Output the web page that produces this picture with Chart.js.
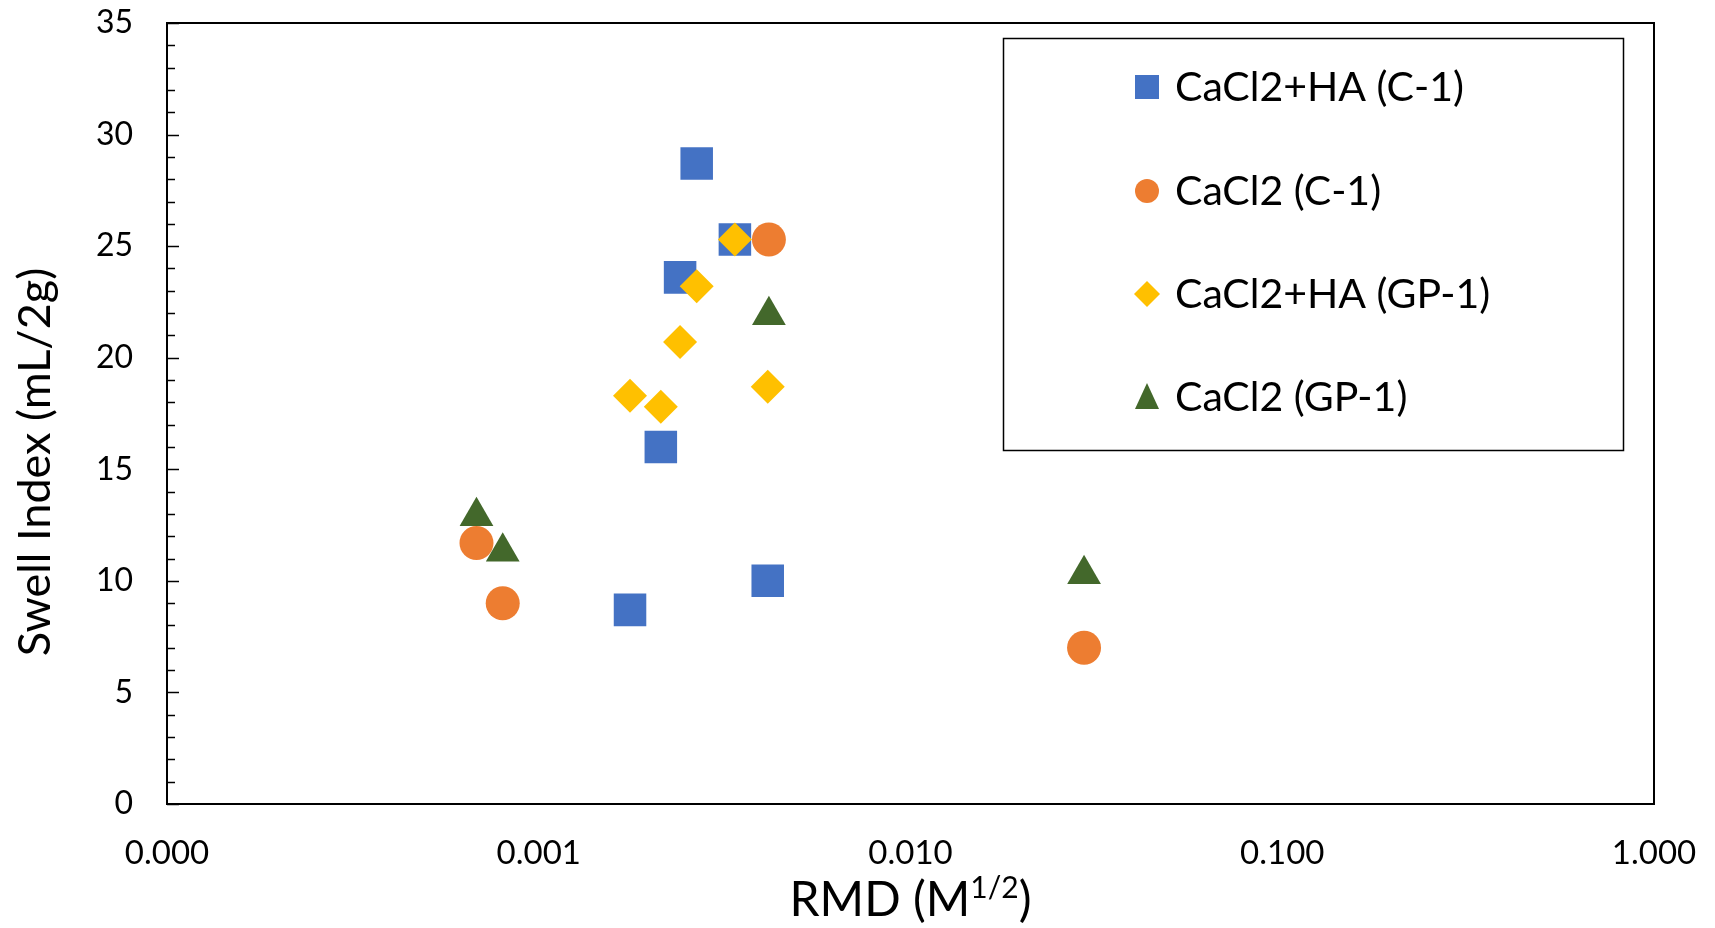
<!DOCTYPE html>
<html>
<head>
<meta charset="utf-8">
<title>Swell Index vs RMD</title>
<script src="https://cdn.jsdelivr.net/npm/chart.js@4.4.1/dist/chart.umd.min.js"></script>
<style>
  html, body { margin: 0; padding: 0; background: #fff; }
  #wrap { width: 1715px; height: 928px; }
</style>
</head>
<body>
<div id="wrap"><canvas id="chart" width="1715" height="928"></canvas></div>
<script>
// data (x = RMD in M^1/2, y = swell index in mL/2g)
const xC1HA = [0.00266, 0.00337, 0.0024, 0.00213, 0.00176, 0.00413];
const yC1HA = [28.7, 25.3, 23.6, 16.0, 8.7, 10.0];
const xC1 = [0.00416, 0.00068, 0.0008, 0.0293];
const yC1 = [25.3, 11.7, 9.0, 7.0];
const xGP1HA = [0.00337, 0.00266, 0.0024, 0.00176, 0.00213, 0.00413];
const yGP1HA = [25.3, 23.2, 20.7, 18.3, 17.8, 18.7];
const xGP1 = [0.00068, 0.0008, 0.00416, 0.0293];
const yGP1 = [12.9, 11.3, 21.9, 10.3];

const seriesNames = ['CaCl2+HA (C-1)', 'CaCl2 (C-1)', 'CaCl2+HA (GP-1)', 'CaCl2 (GP-1)'];
const xTicks = [0.0001, 0.001, 0.01, 0.1, 1];
const yTickStep = 5;
const yMinorStep = 1;
const yMin = 0, yMax = 35;

const FONT = 'Lato, "Open Sans", sans-serif';

const pts = (xs, ys) => xs.map((x, i) => ({ x: x, y: ys[i] }));

const datasets = [
  { label: seriesNames[0], data: pts(xC1HA, yC1HA), pointStyle: 'rect', pointRadius: 23, backgroundColor: '#4472C4', order: 4 },
  { label: seriesNames[1], data: pts(xC1, yC1), pointStyle: 'circle', pointRadius: 17, backgroundColor: '#ED7D31', order: 3 },
  { label: seriesNames[2], data: pts(xGP1HA, yGP1HA), pointStyle: 'rectRot', pointRadius: 17, backgroundColor: '#FFC000', order: 2 },
  { label: seriesNames[3], data: pts(xGP1, yGP1), pointStyle: 'triangle', pointRadius: 19.5, backgroundColor: '#43682B', order: 1 }
];
datasets.forEach(d => { d.borderWidth = 0; d.pointHoverRadius = d.pointRadius; });

// frame, inward y ticks, axis titles and boxed legend
const decor = {
  id: 'decor',
  beforeDatasetsDraw(chart) {
    const { ctx, chartArea: a, scales: { y } } = chart;
    ctx.save();
    ctx.strokeStyle = '#000';
    ctx.lineWidth = 2;
    ctx.strokeRect(a.left, a.top, a.right - a.left, a.bottom - a.top);
    ctx.lineWidth = 1.5;
    for (let v = yMin; v <= yMax; v += yMinorStep) {
      const py = Math.round(y.getPixelForValue(v)) + 0.5;
      const len = v % yTickStep === 0 ? 12 : 8;
      ctx.beginPath();
      ctx.moveTo(a.left, py);
      ctx.lineTo(a.left + len, py);
      ctx.stroke();
    }
    ctx.restore();
  },
  afterDraw(chart) {
    const { ctx, chartArea: a } = chart;
    ctx.save();
    ctx.fillStyle = '#000';

    // y title
    ctx.save();
    ctx.translate(35, 462);
    ctx.rotate(-Math.PI / 2);
    ctx.font = '45px ' + FONT;
    ctx.textAlign = 'center';
    ctx.textBaseline = 'middle';
    ctx.fillText('Swell Index (mL/2g)', 0, 0);
    ctx.restore();

    // x title with superscript
    const big = '48px ' + FONT, small = '30px ' + FONT;
    const p1 = 'RMD (M', p2 = '1/2', p3 = ')';
    ctx.font = big; const w1 = ctx.measureText(p1).width, w3 = ctx.measureText(p3).width;
    ctx.font = small; const w2 = ctx.measureText(p2).width;
    let tx = (a.left + a.right) / 2 - (w1 + w2 + w3) / 2;
    const base = 916;
    ctx.textAlign = 'left';
    ctx.textBaseline = 'alphabetic';
    ctx.font = big; ctx.fillText(p1, tx, base); tx += w1;
    ctx.font = small; ctx.fillText(p2, tx, base - 18); tx += w2;
    ctx.font = big; ctx.fillText(p3, tx, base);

    // legend box
    ctx.strokeStyle = '#000';
    ctx.lineWidth = 1.5;
    ctx.strokeRect(1003.5, 38.5, 620, 412);
    ctx.font = '41px ' + FONT;
    ctx.textBaseline = 'middle';
    const rows = [87, 191, 294, 397];
    const mx = 1147, s = 12;
    chart.data.datasets.forEach((d, i) => {
      const cy = rows[i];
      ctx.fillStyle = d.backgroundColor;
      ctx.beginPath();
      if (d.pointStyle === 'rect') ctx.rect(mx - s, cy - s, 2 * s, 2 * s);
      else if (d.pointStyle === 'circle') ctx.arc(mx, cy, s, 0, Math.PI * 2);
      else if (d.pointStyle === 'rectRot') { ctx.moveTo(mx, cy - s - 1); ctx.lineTo(mx + s + 1, cy); ctx.lineTo(mx, cy + s + 1); ctx.lineTo(mx - s - 1, cy); ctx.closePath(); }
      else { ctx.moveTo(mx, cy - s - 2); ctx.lineTo(mx + s, cy + s); ctx.lineTo(mx - s, cy + s); ctx.closePath(); }
      ctx.fill();
      ctx.fillStyle = '#000';
      ctx.fillText(d.label, 1175, cy + 1);
    });
    ctx.restore();
  }
};

new Chart(document.getElementById('chart'), {
  type: 'scatter',
  data: { datasets: datasets },
  plugins: [decor],
  options: {
    responsive: false,
    animation: false,
    events: [],
    layout: { padding: { top: 20, right: 61, left: 0, bottom: 0 } },
    plugins: { legend: { display: false }, tooltip: { enabled: false } },
    scales: {
      x: {
        type: 'logarithmic',
        min: 0.0001,
        max: 1,
        grid: { display: false, drawTicks: true, tickLength: 30, tickColor: 'rgba(0,0,0,0)' },
        border: { display: false },
        afterBuildTicks: s => { s.ticks = xTicks.map(v => ({ value: v })); },
        afterFit: s => { s.height = 124; },
        ticks: {
          font: { family: FONT, size: 33 },
          color: '#000',
          padding: 0,
          maxRotation: 0,
          autoSkip: false,
          callback: v => Number(v).toFixed(3)
        }
      },
      y: {
        min: yMin,
        max: yMax,
        grid: { display: false, drawTicks: true, tickLength: 34, tickColor: 'rgba(0,0,0,0)' },
        border: { display: false },
        afterFit: s => { s.width = 167; },
        ticks: {
          stepSize: yTickStep,
          font: { family: FONT, size: 32 },
          color: '#000',
          padding: 0
        }
      }
    }
  }
});
</script>
</body>
</html>
